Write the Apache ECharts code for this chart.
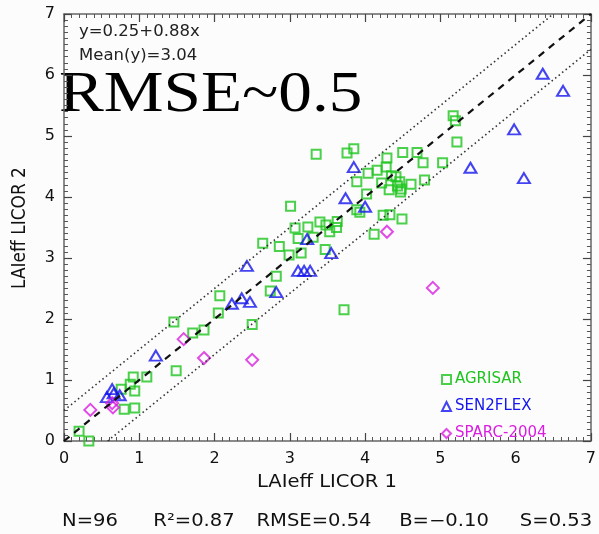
<!DOCTYPE html>
<html lang="en">
<head>
    <meta charset="UTF-8">
    <title>LAIeff LICOR 1 vs LICOR 2</title>
    <script src="https://cdn.jsdelivr.net/npm/echarts/dist/echarts.min.js"></script>
    <style>
        body, html {
            margin: 0;
            padding: 0;
            background: #fcfcfc;
        }
        #chart {
            width: 599px;
            height: 534px;
        }
    </style>
</head>
<body>
<div id="chart"></div>
<script>
    // point data: [LICOR 1, LICOR 2]
    const agrisarPts = [
        [0.2, 0.16], [0.33, 0.0], [0.8, 0.52], [0.94, 0.54], [0.76, 0.85], [0.94, 0.82],
        [0.88, 0.93], [0.92, 1.05], [1.1, 1.05], [1.49, 1.15], [1.46, 1.95], [1.71, 1.77],
        [1.86, 1.82], [2.05, 2.1], [2.07, 2.38], [2.5, 1.91], [2.74, 2.46], [2.82, 2.7],
        [2.64, 3.24], [2.86, 3.19], [2.99, 3.05], [3.15, 3.08], [3.07, 3.49], [3.11, 3.32],
        [3.24, 3.51], [3.31, 3.34], [3.4, 3.59], [3.48, 3.54], [3.63, 3.6], [3.53, 3.43],
        [3.47, 3.14], [3.01, 3.85], [3.72, 2.15], [3.35, 4.7], [3.76, 4.72], [3.85, 4.79],
        [4.29, 4.64], [4.5, 4.73], [4.69, 4.73], [4.77, 4.56], [5.03, 4.56], [4.28, 4.49],
        [4.16, 4.44], [4.04, 4.39], [3.89, 4.25], [4.22, 4.23], [4.32, 4.12], [4.41, 4.33],
        [4.46, 4.25], [4.48, 4.13], [4.61, 4.21], [4.79, 4.28], [4.02, 4.05], [3.89, 3.79],
        [3.93, 3.75], [4.24, 3.7], [4.33, 3.71], [4.49, 3.64], [4.12, 3.39], [5.17, 5.33],
        [5.2, 5.25], [5.22, 4.9], [4.47, 4.08], [4.43, 4.18], [3.62, 3.5], [4.35, 4.35]
    ];
    const sen2flexPts = [
        [0.64, 0.85], [0.57, 0.72], [0.74, 0.75], [0.66, 0.78], [1.22, 1.4], [2.43, 2.87],
        [2.23, 2.25], [2.36, 2.34], [2.47, 2.28], [2.82, 2.44], [3.11, 2.79], [3.19, 2.79],
        [3.27, 2.79], [3.23, 3.31], [3.55, 3.08], [3.85, 4.49], [3.74, 3.98], [4.0, 3.84],
        [5.4, 4.48], [6.11, 4.31], [5.98, 5.11], [6.36, 6.02], [6.63, 5.74]
    ];
    const sparcPts = [
        [0.35, 0.51], [0.64, 0.62], [0.65, 0.55], [1.59, 1.67], [1.86, 1.36], [2.5, 1.33],
        [4.29, 3.43], [4.9, 2.51]
    ];

    // reference lines
    const oneToOneLine = [[0, 0], [7, 7]];
    const upperLine = [[0, 0.5], [6.5, 7]];
    const lowerLine = [[0.58, 0], [7, 6.42]];

    const axisTicks = [0, 1, 2, 3, 4, 5, 6, 7];
    const statsTexts = ['N=96', 'R²=0.87', 'RMSE=0.54', 'B=−0.10', 'S=0.53'];
    const statsX = [90, 194, 314, 444, 556];

    const GREEN = '#1ec41e';
    const BLUE = '#1414ee';
    const MAGENTA = '#d81ee0';
    const FONT = 'DejaVu Sans';

    const chart = echarts.init(document.getElementById('chart'));

    function makeAxis(pos, isX) {
        return {
            type: 'value',
            position: pos,
            min: axisTicks[0],
            max: axisTicks[axisTicks.length - 1],
            interval: 1,
            axisLine: { show: true, onZero: false, lineStyle: { color: '#666', width: 1.5 } },
            axisTick: { show: true, inside: true, length: 8, lineStyle: { color: '#444', width: 1.2 } },
            minorTick: { show: true, splitNumber: 10, length: 4, lineStyle: { color: '#555', width: 1 } },
            splitLine: { show: false },
            axisLabel: {
                show: pos === 'bottom' || pos === 'left',
                color: '#111',
                fontFamily: FONT,
                fontSize: 16,
                margin: isX ? 10 : 9
            }
        };
    }

    function label(t, x, y, size, extra) {
        return Object.assign({
            type: 'text', x: x, y: y, scaleX: 1.15,
            style: { text: t, fontFamily: FONT, fontSize: size, fill: '#111', align: 'center', verticalAlign: 'middle' }
        }, extra || {});
    }

    const option = {
        backgroundColor: '#fcfcfc',
        animation: false,
        grid: { left: 64, right: 8, top: 14, bottom: 93 },
        xAxis: [makeAxis('bottom', true), makeAxis('top', true)],
        yAxis: [makeAxis('left', false), makeAxis('right', false)],
        legend: {
            orient: 'vertical',
            left: 436,
            top: 367,
            itemWidth: 9,
            itemHeight: 9,
            itemGap: 12,
            textStyle: { fontFamily: FONT, fontSize: 15, padding: [0, 0, 0, -1] },
            data: [
                { name: 'AGRISAR', textStyle: { color: GREEN } },
                { name: 'SEN2FLEX', textStyle: { color: BLUE } },
                { name: 'SPARC-2004', textStyle: { color: MAGENTA } }
            ]
        },
        series: [
            {
                name: 'upper',
                type: 'line',
                data: upperLine,
                symbol: 'none',
                lineStyle: { color: '#333', width: 1.6, type: [1.5, 3] },
                silent: true
            },
            {
                name: 'lower',
                type: 'line',
                data: lowerLine,
                symbol: 'none',
                lineStyle: { color: '#333', width: 1.6, type: [1.5, 3] },
                silent: true
            },
            {
                name: 'AGRISAR',
                type: 'scatter',
                data: agrisarPts,
                symbol: 'rect',
                symbolSize: 9,
                itemStyle: { color: 'rgba(0,0,0,0)', borderColor: GREEN, borderWidth: 2 }
            },
            {
                name: 'SEN2FLEX',
                type: 'scatter',
                data: sen2flexPts,
                symbol: 'triangle',
                symbolSize: [12, 10],
                itemStyle: { color: 'rgba(0,0,0,0)', borderColor: BLUE, borderWidth: 2 }
            },
            {
                name: 'SPARC-2004',
                type: 'scatter',
                data: sparcPts,
                symbol: 'diamond',
                symbolSize: 12,
                itemStyle: { color: 'rgba(0,0,0,0)', borderColor: MAGENTA, borderWidth: 2 }
            },
            {
                name: 'oneToOne',
                type: 'line',
                data: oneToOneLine,
                symbol: 'none',
                lineStyle: { color: '#111', width: 2.2, type: [7, 6] },
                silent: true
            }
        ],
        graphic: [
            {
                type: 'text', x: 79, y: 25, scaleX: 1.1,
                style: { text: 'y=0.25+0.88x', fontFamily: FONT, fontSize: 15, fill: '#222' }
            },
            {
                type: 'text', x: 79, y: 49, scaleX: 1.1,
                style: { text: 'Mean(y)=3.04', fontFamily: FONT, fontSize: 15, fill: '#222' }
            },
            {
                type: 'text', x: 59, y: 68, scaleX: 1.2,
                style: { text: 'RMSE~0.5', fontFamily: 'Liberation Serif', fontSize: 56, fill: '#000' }
            },
            label('LAIeff LICOR 1', 327, 483, 17),
            label('LAIeff LICOR 2', 20, 228, 17, { rotation: Math.PI / 2, scaleX: 1, scaleY: 1.15 })
        ].concat(statsTexts.map((t, i) => label(t, statsX[i], 522, 17)))
    };

    chart.setOption(option);
</script>
</body>
</html>
